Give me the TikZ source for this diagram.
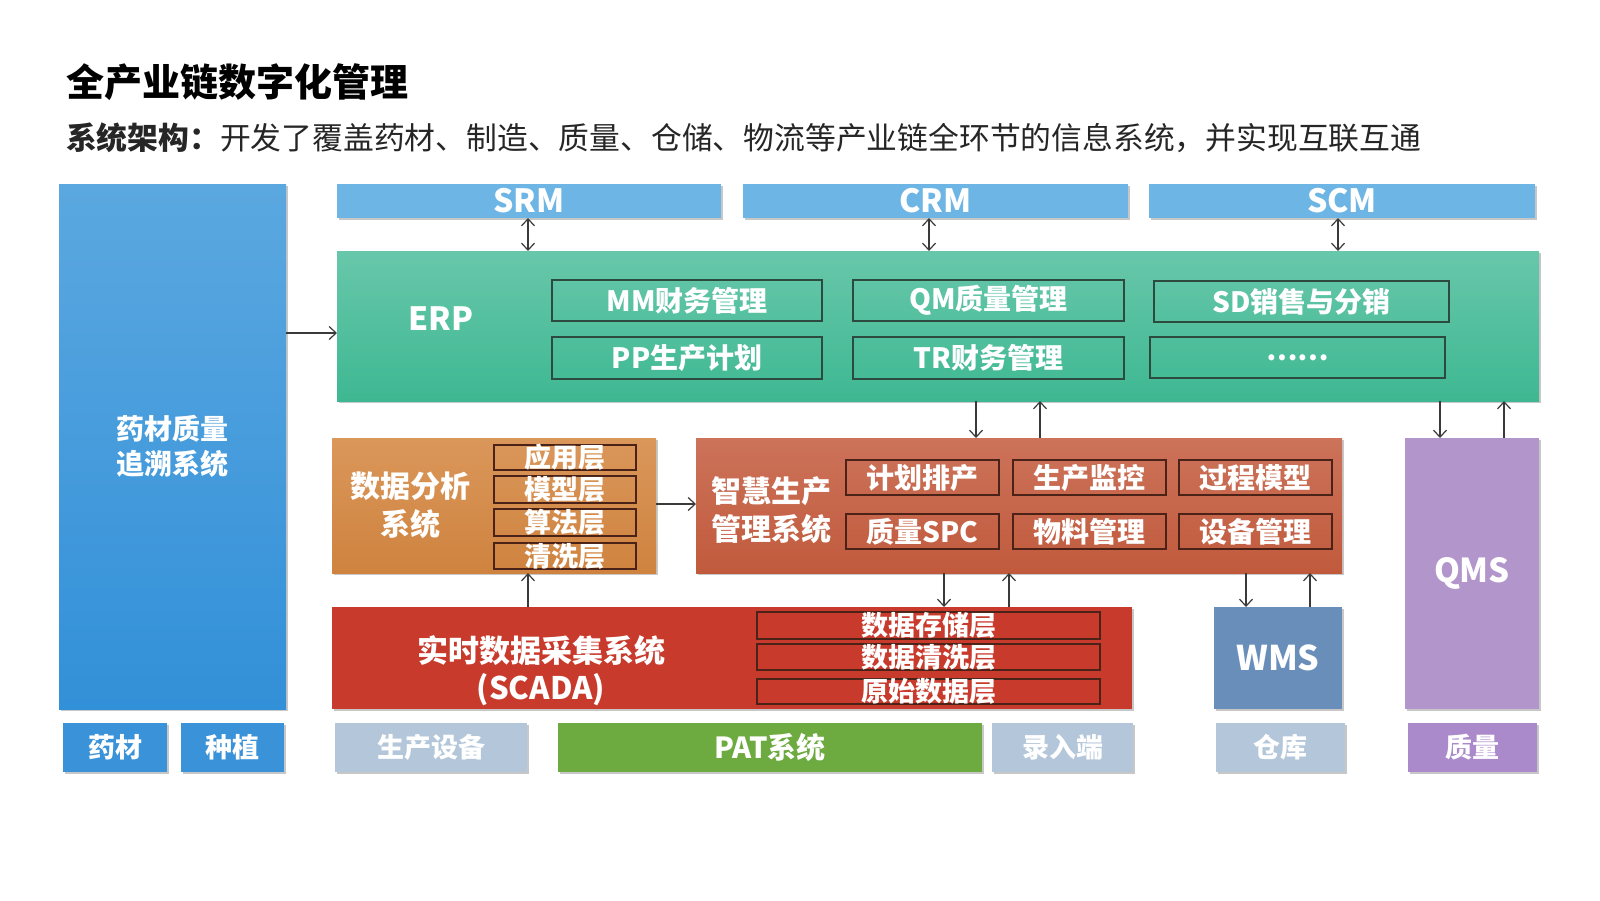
\documentclass[tikz,border=0pt]{standalone}
\usepackage{fontspec}
\setmainfont{Noto Sans CJK SC}
\usetikzlibrary{fit,shadows,arrows.meta}
\definecolor{bluetop}{HTML}{5BA8E0}
\definecolor{bluebot}{HTML}{3290D8}
\definecolor{barc}{HTML}{6DB5E5}
\definecolor{erptop}{HTML}{68C7AA}
\definecolor{erpbot}{HTML}{3EB892}
\definecolor{inkG}{HTML}{2C4A3E}
\definecolor{datop}{HTML}{DA975A}
\definecolor{dabot}{HTML}{CF833F}
\definecolor{zhtop}{HTML}{CC735A}
\definecolor{zhbot}{HTML}{C15A3D}
\definecolor{inkR}{HTML}{4A2218}
\definecolor{scadac}{HTML}{C83A2C}
\definecolor{wmsc}{HTML}{6A8EBA}
\definecolor{qmsc}{HTML}{B295CA}
\definecolor{qmsb}{HTML}{AA8ACB}
\definecolor{grayb}{HTML}{B3C6DA}
\definecolor{patc}{HTML}{6DAA40}
\definecolor{smallblue}{HTML}{3A92D8}
\definecolor{arrowc}{HTML}{3A3A3A}
\newcommand\fsz[2]{\fontsize{#1}{#2}\selectfont}
% box with centred text
\newcommand\bx[7]{%
  \node[#2, fit={(#3,#4) (#5,#6)}] (#1) {};
  \node[lbl] (#1-t) at (#1.center) {#7};}
% box without text
\newcommand\bxe[6]{%
  \node[#2, fit={(#3,#4) (#5,#6)}] (#1) {};}
\begin{document}
\begin{tikzpicture}[x=0.5pt,y=-0.5pt,
  every node/.style={inner sep=0pt, outer sep=0pt},
  shad/.style={drop shadow={shadow xshift=1.2pt,shadow yshift=-1.2pt,opacity=0.22,fill=black}},
  blk/.style={shad, draw=none},
  frameG/.style={draw=inkG, line width=1.2pt},
  frameR/.style={draw=inkR, line width=1.1pt},
  lbl/.style={text=white, font=\bfseries, align=center},
  arr/.style={draw=arrowc, line width=0.6pt, -{Straight Barb[length=3.5pt,width=6.5pt]}},
  darr/.style={draw=arrowc, line width=0.6pt, {Straight Barb[length=3.5pt,width=6.5pt]}-{Straight Barb[length=3.5pt,width=6.5pt]}},
]
\path[use as bounding box, fill=white] (0,0) rectangle (1600,900);

% titles
\node[anchor=west, font=\bfseries] (title) at (66,82) {\fsz{19pt}{22pt}全产业链数字化管理};
\node[anchor=west, text=black!85] (sub) at (66,138) {\fsz{15.4pt}{18pt}\textbf{系统架构：}开发了覆盖药材、制造、质量、仓储、物流等产业链全环节的信息系统，并实现互联互通};

% left trace system
\bxe{trace}{blk, top color=bluetop, bottom color=bluebot}{59}{184}{286}{709}
\node[lbl, font=\bfseries\fsz{14pt}{17.5pt}] (trace-t) at (trace.center) {药材质量\\追溯系统};

% top bars
\bx{srm}{blk, fill=barc}{337}{184}{721}{218}{\fsz{16pt}{18pt}SRM}
\bx{crm}{blk, fill=barc}{743}{184}{1128}{218}{\fsz{16pt}{18pt}CRM}
\bx{scm}{blk, fill=barc}{1149}{184}{1535}{218}{\fsz{16pt}{18pt}SCM}

% ERP
\bxe{erp}{blk, top color=erptop, bottom color=erpbot}{337}{251}{1539}{401}
\node[lbl] (erp-t) at (441,319) {\fsz{16pt}{18pt}ERP};
\bx{mm}{frameG}{552}{280}{822}{321}{\fsz{14pt}{16pt}MM财务管理}
\bx{pp}{frameG}{552}{337}{822}{379}{\fsz{14pt}{16pt}PP生产计划}
\bx{qm}{frameG}{853}{280}{1124}{321}{\fsz{14pt}{16pt}QM质量管理}
\bx{tr}{frameG}{853}{337}{1124}{379}{\fsz{14pt}{16pt}TR财务管理}
\bx{sd}{frameG}{1154}{281}{1449}{322}{\fsz{14pt}{16pt}SD销售与分销}
\bx{etc}{frameG}{1150}{337}{1445}{378}{\fsz{14pt}{16pt}……}

% data analysis
\bxe{da}{blk, top color=datop, bottom color=dabot}{332}{438}{656}{573}
\node[lbl, font=\bfseries\fsz{15pt}{19pt}] (da-t) at (410,505) {数据分析\\系统};
\bx{la}{frameR}{494}{445}{636}{470}{\fsz{13.5pt}{15pt}应用层}
\bx{lb}{frameR}{494}{476}{636}{503}{\fsz{13.5pt}{15pt}模型层}
\bx{lc}{frameR}{494}{509}{636}{536}{\fsz{13.5pt}{15pt}算法层}
\bx{ld}{frameR}{494}{543}{636}{569}{\fsz{13.5pt}{15pt}清洗层}

% smart production
\bxe{zh}{blk, top color=zhtop, bottom color=zhbot}{696}{438}{1342}{573}
\node[lbl, font=\bfseries\fsz{15pt}{19pt}] (zh-t) at (771,510) {智慧生产\\管理系统};
\bx{za}{frameR}{846}{460}{999}{495}{\fsz{14pt}{16pt}计划排产}
\bx{zb}{frameR}{1013}{460}{1166}{495}{\fsz{14pt}{16pt}生产监控}
\bx{zc}{frameR}{1179}{460}{1332}{495}{\fsz{14pt}{16pt}过程模型}
\bx{zd}{frameR}{846}{514}{999}{549}{\fsz{14pt}{16pt}质量SPC}
\bx{ze}{frameR}{1013}{514}{1166}{549}{\fsz{14pt}{16pt}物料管理}
\bx{zf}{frameR}{1179}{514}{1332}{549}{\fsz{14pt}{16pt}设备管理}

% SCADA
\bxe{scada}{blk, fill=scadac}{332}{607}{1132}{709}
\node[lbl, font=\bfseries\fsz{15.5pt}{18.5pt}] (scada-t) at (541,671) {实时数据采集系统\\(SCADA)};
\bx{sa}{frameR}{757}{612}{1100}{639}{\fsz{13.5pt}{15pt}数据存储层}
\bx{sb}{frameR}{757}{644}{1100}{670}{\fsz{13.5pt}{15pt}数据清洗层}
\bx{sc}{frameR}{757}{679}{1100}{704}{\fsz{13.5pt}{15pt}原始数据层}

% WMS, QMS
\bx{wms}{blk, fill=wmsc}{1214}{607}{1342}{709}{\fsz{17pt}{20pt}WMS}
\bx{qms}{blk, fill=qmsc}{1405}{438}{1539}{709}{\fsz{16.5pt}{20pt}QMS}

% bottom row
\bx{b1}{blk, fill=smallblue}{63}{723}{167}{772}{\fsz{13.5pt}{15pt}药材}
\bx{b2}{blk, fill=smallblue}{181}{723}{284}{772}{\fsz{13.5pt}{15pt}种植}
\bx{b3}{blk, fill=grayb}{335}{723}{527}{772}{\fsz{13.5pt}{15pt}生产设备}
\bx{b4}{blk, fill=patc}{558}{723}{982}{772}{\fsz{14.5pt}{16pt}PAT系统}
\bx{b5}{blk, fill=grayb}{992}{723}{1133}{772}{\fsz{13.5pt}{15pt}录入端}
\bx{b6}{blk, fill=grayb}{1216}{723}{1345}{772}{\fsz{13.5pt}{15pt}仓库}
\bx{b7}{blk, fill=qmsb}{1408}{723}{1537}{772}{\fsz{13.5pt}{15pt}质量}

% connectors
\draw[darr] (srm.south -| 528,0) -- (erp.north -| 528,0);
\draw[darr] (crm.south -| 929,0) -- (erp.north -| 929,0);
\draw[darr] (scm.south -| 1338,0) -- (erp.north -| 1338,0);
\draw[arr] (trace.east |- 0,333) -- (erp.west |- 0,333);
\draw[arr] (da.east |- 0,504) -- (zh.west |- 0,504);
\draw[arr] (erp.south -| 976,0) -- (zh.north -| 976,0);
\draw[arr] (zh.north -| 1040,0) -- (erp.south -| 1040,0);
\draw[arr] (erp.south -| 1440,0) -- (qms.north -| 1440,0);
\draw[arr] (qms.north -| 1504,0) -- (erp.south -| 1504,0);
\draw[arr] (scada.north -| 528,0) -- (da.south -| 528,0);
\draw[arr] (zh.south -| 944,0) -- (scada.north -| 944,0);
\draw[arr] (scada.north -| 1009,0) -- (zh.south -| 1009,0);
\draw[arr] (zh.south -| 1246,0) -- (wms.north -| 1246,0);
\draw[arr] (wms.north -| 1310,0) -- (zh.south -| 1310,0);
\end{tikzpicture}
\end{document}
